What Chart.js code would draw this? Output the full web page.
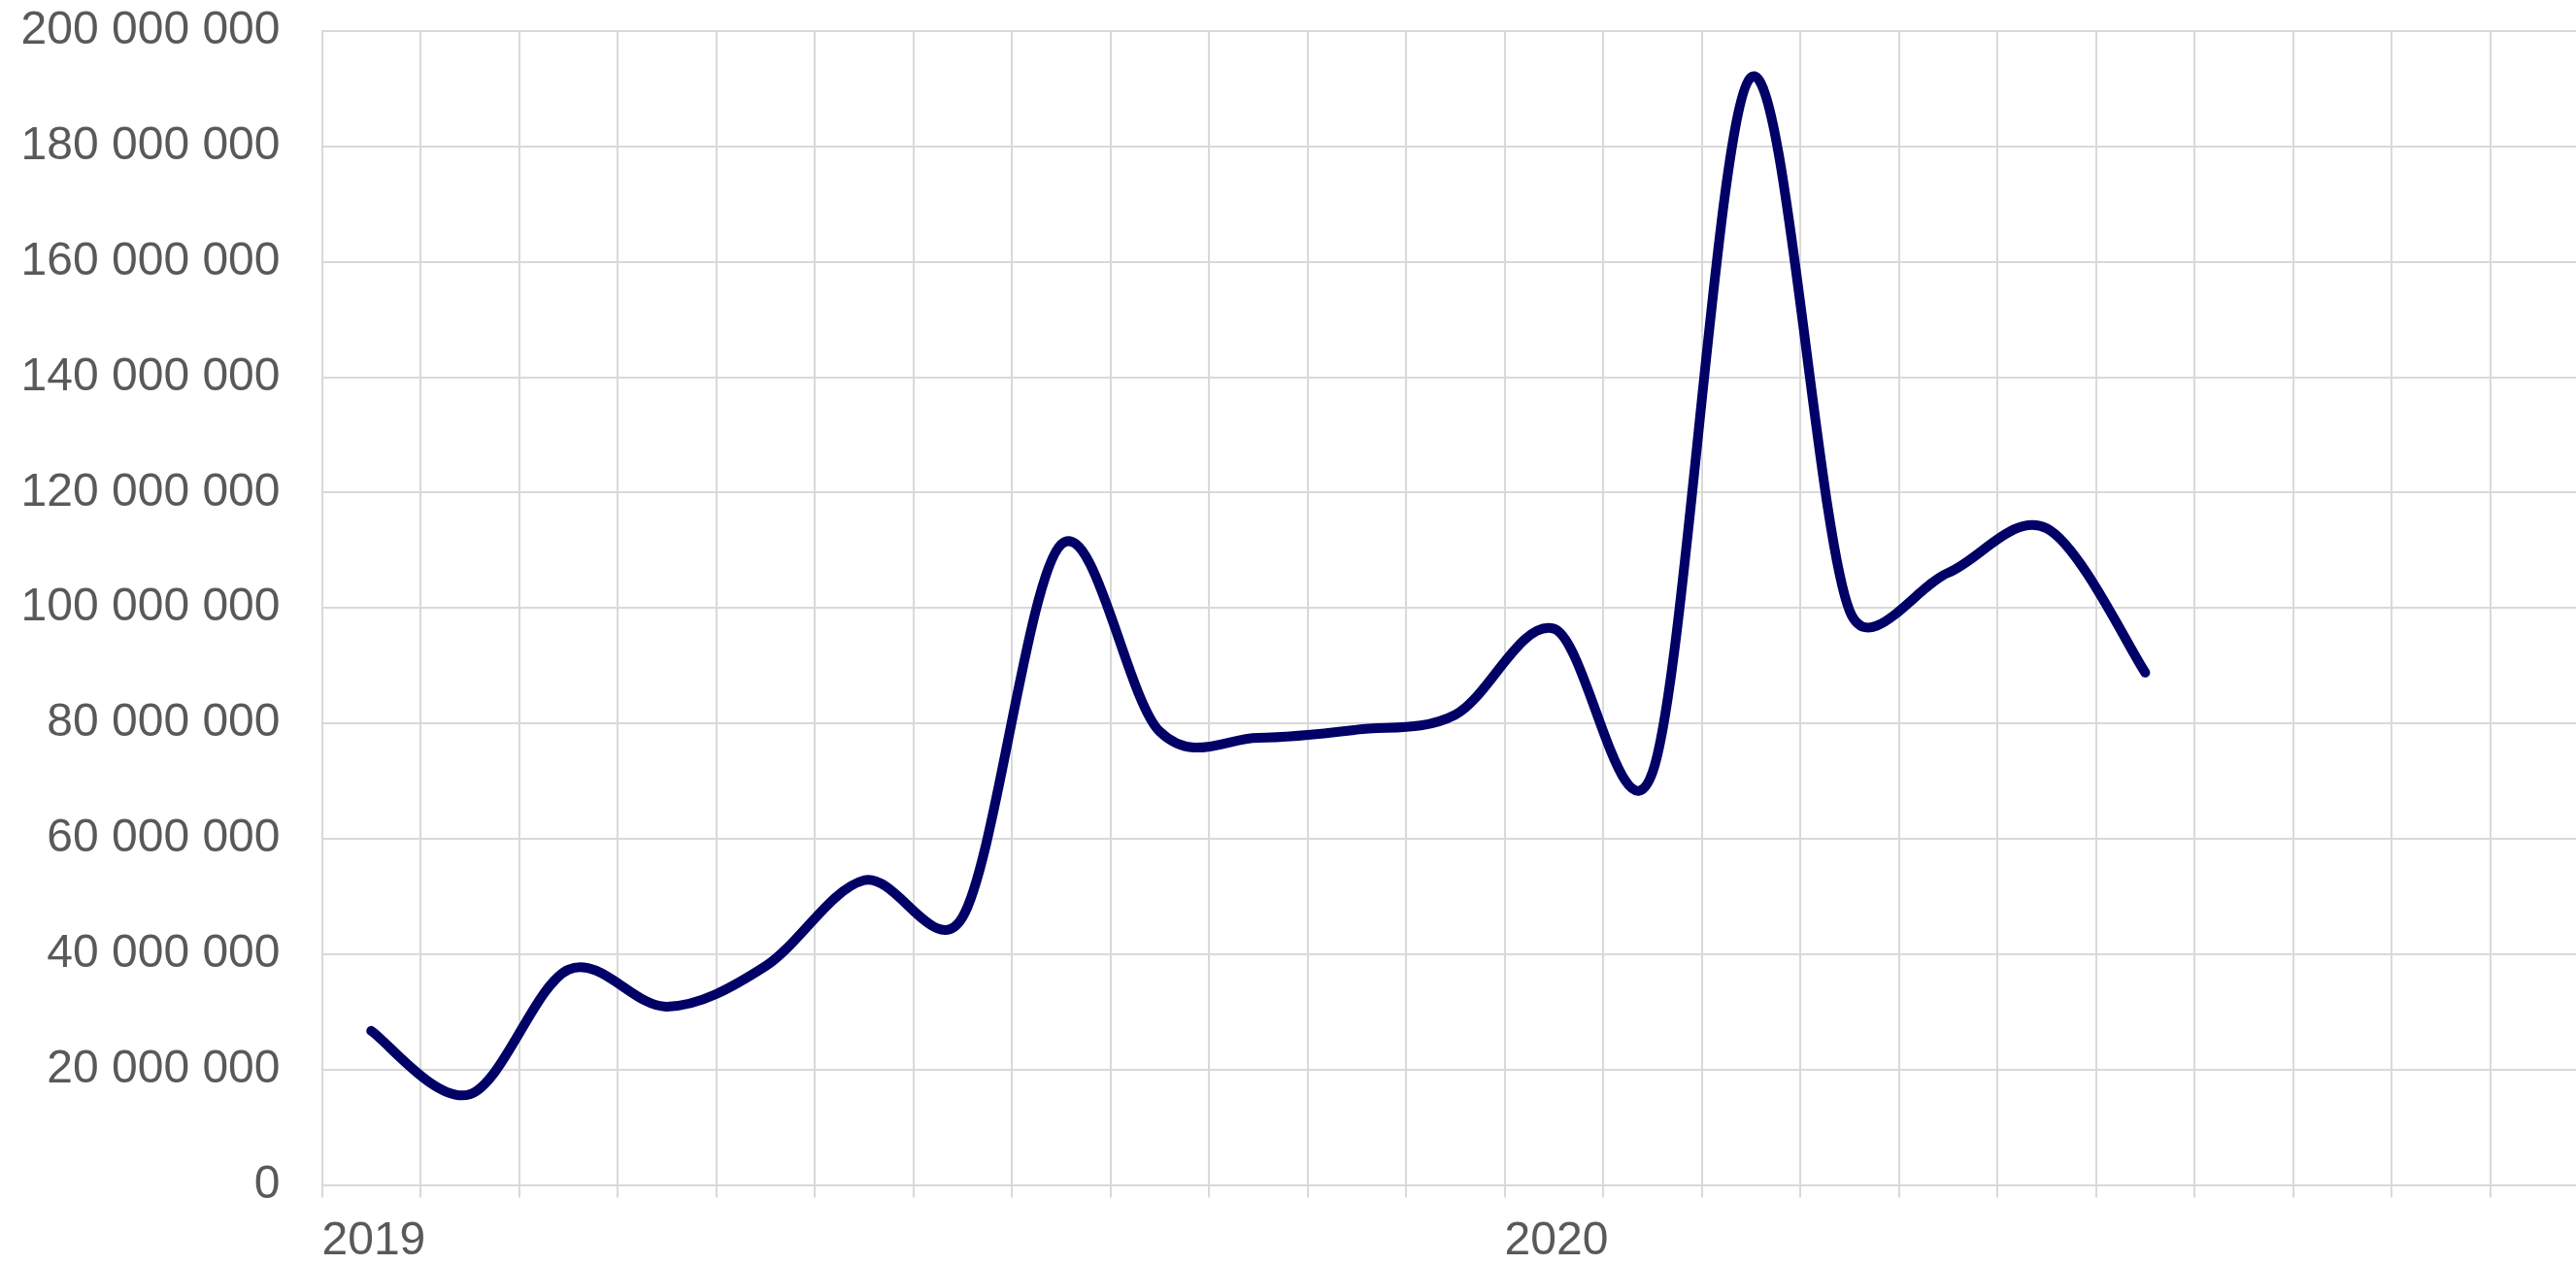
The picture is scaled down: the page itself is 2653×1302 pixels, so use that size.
<!DOCTYPE html>
<html>
<head>
<meta charset="utf-8">
<script src="https://cdn.jsdelivr.net/npm/chart.js@4/dist/chart.umd.min.js"></script>
<style>
  html, body { margin: 0; padding: 0; background: #fff; overflow: hidden; }
  canvas { display: block; }
</style>
</head>
<body>
<canvas id="c" width="2653" height="1302"></canvas>
<script>
// months of the series (points sit in the middle of each month band)
const months = ['2019-01', '2019-02', '2019-03', '2019-04', '2019-05', '2019-06',
  '2019-07', '2019-08', '2019-09', '2019-10', '2019-11', '2019-12',
  '2020-01', '2020-02', '2020-03', '2020-04', '2020-05', '2020-06', '2020-07']
const values = [26700000, 15700000, 37300000, 30900000, 37900000, 52800000,
  46400000, 111000000, 78600000, 77500000, 78900000, 81500000,
  96400000, 71500000, 192000000, 99500000, 106100000, 113800000, 88800000]
const yearLabels = ['2019', '2020']
const yTicks = [0, 20000000, 40000000, 60000000, 80000000, 100000000,
  120000000, 140000000, 160000000, 180000000, 200000000]

const points = months.map((m, i) => ({ x: i + 0.5, y: values[i] }))
const spaced = v => String(v).replace(/\B(?=(\d{3})+(?!\d))/g, ' ')
const font = { family: '"Liberation Sans", Arial, sans-serif', size: 48 }
const grey = '#d9d9d9'

// office-style smoothing: catmull-rom arms (1/6), capped at half the segment
const dist = (a, b) => Math.hypot(b.x - a.x, b.y - a.y)
const smoothLine = {
  id: 'smoothLine',
  beforeDatasetDraw(chart, args) {
    const pts = args.meta.data
    args.meta.dataset.updateControlPoints(chart.chartArea, 'x')
    const n = pts.length
    for (let i = 0; i < n; i++) {
      const p = pts[i]
      const prev = pts[i - 1] || p
      const next = pts[i + 1] || p
      const span = dist(prev, next)
      const dx = next.x - prev.x
      const dy = next.y - prev.y
      let fIn = 1 / 6
      let fOut = 1 / 6
      if (span > 0) {
        if (i > 0 && span / 6 > dist(prev, p) / 2) fIn = dist(prev, p) / (2 * span)
        if (i < n - 1 && span / 6 > dist(p, next) / 2) fOut = dist(p, next) / (2 * span)
      }
      p.cp1x = p.x - dx * fIn
      p.cp1y = p.y - dy * fIn
      p.cp2x = p.x + dx * fOut
      p.cp2y = p.y + dy * fOut
    }
  }
}

new Chart(document.getElementById('c'), {
  type: 'line',
  data: {
    datasets: [{
      data: points,
      borderColor: '#000066',
      borderWidth: 10,
      borderCapStyle: 'round',
      borderJoinStyle: 'round',
      tension: 0.4,
      pointRadius: 0,
      fill: false
    }]
  },
  plugins: [smoothLine],
  options: {
    responsive: false,
    animation: false,
    devicePixelRatio: 1,
    layout: { padding: { top: 32, right: 0, bottom: 0, left: 0 } },
    plugins: { legend: { display: false }, tooltip: { enabled: false } },
    scales: {
      x: {
        type: 'linear',
        min: 0,
        max: 22.87,
        grid: { color: grey, lineWidth: 2, tickLength: 13 },
        border: { color: grey, width: 2 },
        ticks: {
          stepSize: 1,
          autoSkip: false,
          includeBounds: false,
          maxRotation: 0,
          align: 'start',
          padding: 16,
          color: '#595959',
          font: font,
          callback: v => (v % 12 === 0 ? yearLabels[v / 12] || '' : '')
        },
        afterFit: s => { s.height = 81.5; s.paddingLeft = 0; s.paddingRight = 0 }
      },
      y: {
        min: 0,
        max: 200000000,
        afterBuildTicks: s => { s.ticks = yTicks.map(v => ({ value: v })) },
        grid: { color: grey, lineWidth: 2, drawTicks: false },
        border: { color: grey, width: 2 },
        ticks: {
          padding: 43,
          color: '#595959',
          font: font,
          callback: v => spaced(v)
        },
        afterFit: s => { s.width = 331.5; s.paddingTop = 0; s.paddingBottom = 0 }
      }
    }
  }
})
</script>
</body>
</html>
